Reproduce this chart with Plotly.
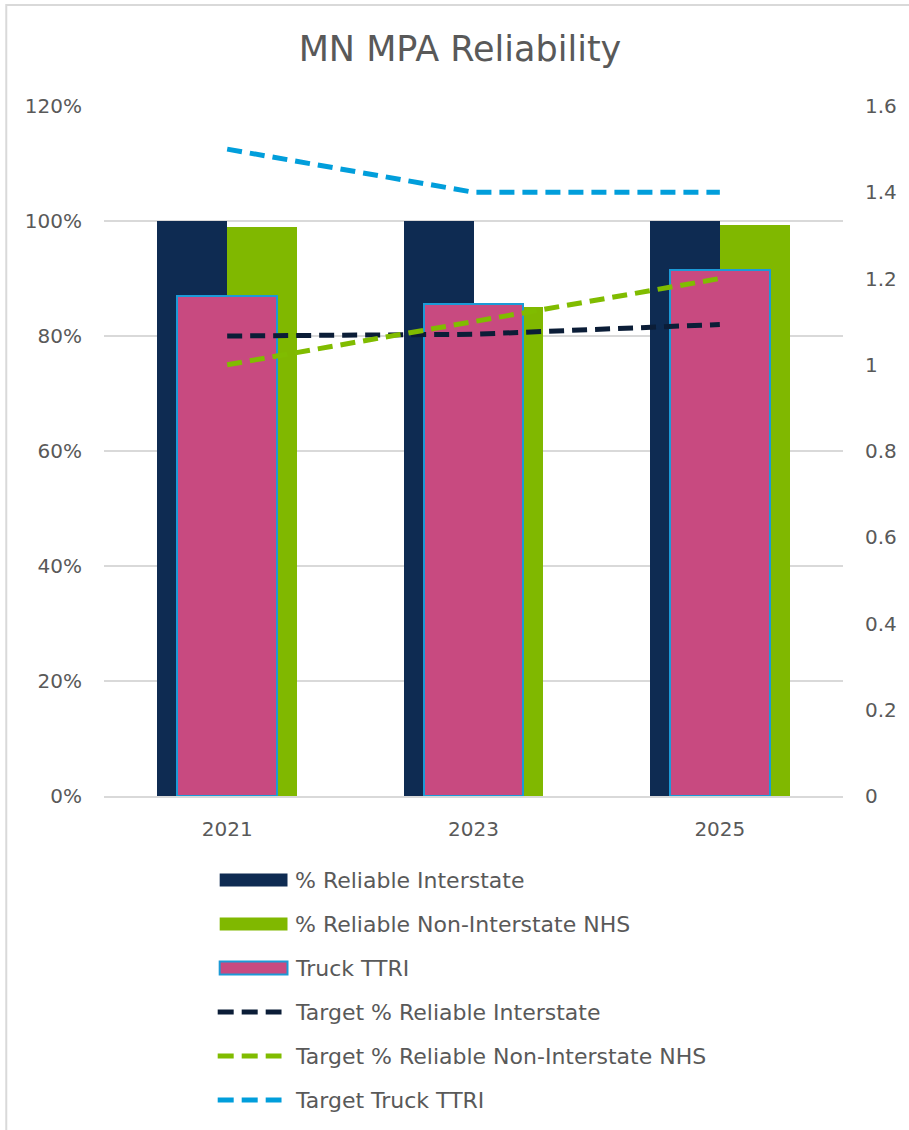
import plotly.graph_objects as go

# ---- data ----
years = ["2021", "2023", "2025"]
pct_reliable_interstate = [100.0, 100.0, 100.0]
pct_reliable_non_interstate = [99.0, 85.0, 99.3]
truck_ttri = [1.16, 1.14, 1.22]
target_reliable_interstate = [80.0, 80.3, 82.0]
target_reliable_non_interstate = [75.0, 82.5, 90.0]
target_truck_ttri = [1.5, 1.4, 1.4]

left_ticks = [0, 20, 40, 60, 80, 100, 120]
right_ticks = [0, 0.2, 0.4, 0.6, 0.8, 1.0, 1.2, 1.4, 1.6]

# ---- styling ----
W, H = 909, 1130
L, R, T, B = 104, 64, 106, 334
FONT = "DejaVu Sans"
GREY = "#595959"
GRID = "#D9D9D9"
NAVY = "#0E2B52"
GREEN = "#80B800"
PINK = "#C84A80"
PINK_EDGE = "#1C9AD6"
NAVY_T = "#0B1D37"
GREEN_T = "#80BC00"
BLUE_T = "#019EDB"
DASH = "15px,8px"

series_names = [
    "% Reliable Interstate",
    "% Reliable Non-Interstate NHS",
    "Truck TTRI",
    "Target % Reliable Interstate",
    "Target % Reliable Non-Interstate NHS",
    "Target Truck TTRI",
]

fig = go.Figure()

bar_w = 0.283
fig.add_bar(x=years, y=pct_reliable_interstate, name=series_names[0],
            marker=dict(color=NAVY, line=dict(width=0)),
            width=bar_w, offset=-bar_w, yaxis="y")
fig.add_bar(x=years, y=pct_reliable_non_interstate, name=series_names[1],
            marker=dict(color=GREEN, line=dict(width=0)),
            width=bar_w, offset=0, yaxis="y")
fig.add_bar(x=years, y=truck_ttri, name=series_names[2],
            marker=dict(color=PINK, line=dict(color=PINK_EDGE, width=2)),
            width=0.405, offset=-0.2025, yaxis="y2")
fig.add_scatter(x=years, y=target_truck_ttri, name=series_names[5], mode="lines",
                line=dict(color=BLUE_T, width=5, dash=DASH), yaxis="y2")
fig.add_scatter(x=years, y=target_reliable_interstate, name=series_names[3], mode="lines",
                line=dict(color=NAVY_T, width=5, dash=DASH), yaxis="y3")
fig.add_scatter(x=years, y=target_reliable_non_interstate, name=series_names[4], mode="lines",
                line=dict(color=GREEN_T, width=5, dash=DASH), yaxis="y3")


def px_x(px):
    return (px - L) / (W - L - R)


def px_y(py):
    return (H - B - py) / (H - T - B)


shapes = []
annotations = []

# outer chart border
shapes.append(dict(type="path", xref="paper", yref="paper",
                   path=f"M {px_x(916)} {px_y(5)} L {px_x(6)} {px_y(5)} L {px_x(6)} {px_y(1140)}",
                   line=dict(color=GRID, width=2)))

# legend
rows = [880, 924, 968, 1012, 1056, 1100]
box_fill = [NAVY, GREEN, PINK]
for i, yc in enumerate(rows[:3]):
    edge = PINK_EDGE if i == 2 else box_fill[i]
    shapes.append(dict(type="rect", xref="paper", yref="paper",
                       x0=px_x(220), x1=px_x(288), y0=px_y(yc - 6.5), y1=px_y(yc + 6.5),
                       fillcolor=box_fill[i], line=dict(color=edge, width=2 if i == 2 else 0)))
for yc, col in zip(rows[3:], [NAVY_T, GREEN_T, BLUE_T]):
    shapes.append(dict(type="line", xref="paper", yref="paper",
                       x0=px_x(218), x1=px_x(282), y0=px_y(yc), y1=px_y(yc),
                       line=dict(color=col, width=5, dash="16px,8px")))
for yc, name in zip(rows, series_names):
    annotations.append(dict(xref="paper", yref="paper", x=px_x(294), y=px_y(yc),
                            xanchor="left", yanchor="middle", showarrow=False,
                            text=name, font=dict(family=FONT, size=22, color=GREY)))

fig.update_layout(
    width=W, height=H,
    margin=dict(l=L, r=R, t=T, b=B, pad=0),
    paper_bgcolor="white", plot_bgcolor="white",
    barmode="overlay", bargap=0,
    showlegend=False,
    title=dict(text="MN MPA Reliability", xref="container", yref="container",
               x=460 / W, y=1 - 49 / H, xanchor="center", yanchor="middle",
               font=dict(family=FONT, size=35, color=GREY)),
    font=dict(family=FONT, color=GREY),
    xaxis=dict(type="category", range=[-0.5, 2.5], showgrid=False,
               showline=True, linecolor=GRID, linewidth=1.5,
               ticks="", tickfont=dict(size=20, color=GREY), ticklabelstandoff=14),
    yaxis=dict(range=[0, 120], tickvals=left_ticks, ticktext=[f"{v}%" for v in left_ticks],
               showgrid=True, gridcolor=GRID, gridwidth=1.5, zeroline=False,
               showline=False, ticks="", tickfont=dict(size=20, color=GREY),
               ticklabelstandoff=21),
    yaxis2=dict(range=[0, 1.6], tickvals=right_ticks, overlaying="y", side="right",
                showgrid=False, zeroline=False, showline=False, ticks="",
                tickfont=dict(size=20, color=GREY), ticklabelstandoff=21),
    yaxis3=dict(range=[0, 120], overlaying="y", visible=False),
    shapes=shapes,
    annotations=annotations,
)

fig.write_html("out.html")
